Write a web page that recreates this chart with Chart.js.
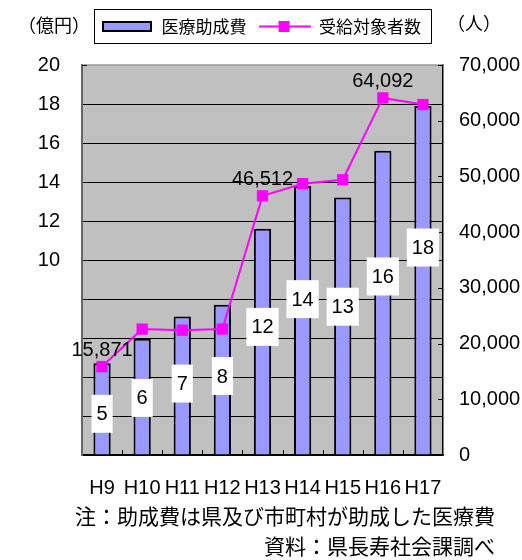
<!DOCTYPE html>
<html>
<head>
<meta charset="utf-8">
<script src="https://cdn.jsdelivr.net/npm/chart.js@4.4.1/dist/chart.umd.min.js"></script>
<style>
  body { margin: 0; background: #fff; }
  #wrap { position: relative; width: 522px; height: 560px; }
  #c { display: block; }
  .note { position: absolute; right: 27px; font-family: "Noto Sans CJK JP", sans-serif; font-size: 21px; line-height: 1; color: #000; white-space: nowrap; }
</style>
</head>
<body>
<div id="wrap">
  <canvas id="c" width="522" height="505"></canvas>
  <div class="note" style="top:505px">注：助成費は県及び市町村が助成した医療費</div>
  <div class="note" style="top:535px">資料：県長寿社会課調べ</div>
</div>
<script>
// data
const years = ["H9", "H10", "H11", "H12", "H13", "H14", "H15", "H16", "H17"];
const costs = [4.7, 5.96, 7.1, 7.7, 11.6, 13.8, 13.2, 15.6, 17.9];          // 億円
const recipients = [15871, 22600, 22400, 22600, 46512, 48700, 49400, 64092, 62900]; // 人
const labeledPoints = [0, 4, 7];

const numFont = '"Liberation Sans", Arial, sans-serif';
const jpFont = '"Noto Sans CJK JP", sans-serif';

function icon(draw) {
    const c = document.createElement("canvas");
    c.width = 52; c.height = 13;
    draw(c.getContext("2d"));
    return c;
}
const barIcon = icon(g => {
    g.fillStyle = "#9999FF"; g.fillRect(2, 1, 48, 11);
    g.strokeStyle = "#000"; g.lineWidth = 2; g.strokeRect(2, 2, 48, 9);
});
const lineIcon = icon(g => {
    g.strokeStyle = "#FF00FF"; g.lineWidth = 2;
    g.beginPath(); g.moveTo(0, 6.5); g.lineTo(52, 6.5); g.stroke();
    g.fillStyle = "#FF00FF"; g.fillRect(20, 1, 11, 11);
});

const decor = {
    id: "decor",
    beforeInit(chart) {
        const legend = chart.legend;
        const fit = legend.fit;
        legend.fit = function () { fit.call(this); this.height = 59; };
    },
    beforeDraw(chart) {
        const { ctx, chartArea: a } = chart;
        ctx.save();
        ctx.fillStyle = "#C0C0C0";
        ctx.fillRect(a.left, a.top, a.right - a.left, a.bottom - a.top);
        ctx.restore();
    },
    beforeDatasetsDraw(chart) {
        const { ctx, chartArea: a, scales } = chart;
        ctx.save();
        ctx.strokeStyle = "#999"; ctx.lineWidth = 1.5;
        ctx.beginPath(); ctx.moveTo(a.left, a.top); ctx.lineTo(a.right, a.top); ctx.stroke();
        ctx.strokeStyle = "#000"; ctx.lineWidth = 1;
        ctx.beginPath();
        const cw = (a.right - a.left) / years.length;
        for (let i = 1; i < years.length; i++) {
            const x = Math.round(a.left + i * cw) + 0.5;
            ctx.moveTo(x, a.bottom); ctx.lineTo(x, a.bottom - 5);
        }
        scales.y1.ticks.forEach(t => {
            const y = Math.round(scales.y1.getPixelForValue(t.value)) + 0.5;
            ctx.moveTo(a.right, y); ctx.lineTo(a.right - 5, y);
        });
        ctx.moveTo(a.left, a.top + 0.5); ctx.lineTo(a.left + 5, a.top + 0.5);
        ctx.stroke();
        ctx.restore();
    },
    afterDatasetDraw(chart, args) {
        if (args.index !== 0) return;
        const ctx = chart.ctx;
        const base = chart.scales.y.getPixelForValue(0);
        ctx.save();
        ctx.font = "20px " + numFont;
        ctx.textAlign = "center"; ctx.textBaseline = "middle";
        args.meta.data.forEach((bar, i) => {
            const txt = String(Math.round(costs[i]));
            const h = base - bar.y;
            const cy = base - (0.646 * h - 18);
            const w = ctx.measureText(txt).width + 10;
            ctx.fillStyle = "#fff";
            ctx.fillRect(bar.x - w / 2, cy - 19, w, 38);
            ctx.fillStyle = "#000";
            ctx.fillText(txt, bar.x, cy + 1);
        });
        ctx.restore();
    },
    afterDraw(chart) {
        const ctx = chart.ctx;
        ctx.save();
        ctx.fillStyle = "#000";
        ctx.font = "20px " + numFont;
        ctx.textAlign = "center"; ctx.textBaseline = "middle";
        const pts = chart.getDatasetMeta(1).data;
        labeledPoints.forEach(i => {
            ctx.fillText(recipients[i].toLocaleString("en-US"), pts[i].x, pts[i].y - 16);
        });
        // legend frame
        const hb = chart.legend.legendHitBoxes;
        const l = hb[0].left - 7, r = hb[hb.length - 1].left + hb[hb.length - 1].width + 10;
        ctx.strokeStyle = "#000"; ctx.lineWidth = 1;
        ctx.strokeRect(Math.round(l) + 0.5, 9.5, Math.round(r - l), 34);
        // units
        ctx.font = "18px " + jpFont;
        ctx.textAlign = "left";
        ctx.fillText("（億円）", 18, 25);
        ctx.fillText("（人）", 447, 23);
        ctx.restore();
    }
};

new Chart(document.getElementById("c"), {
    type: "bar",
    data: {
        labels: years,
        datasets: [{
            type: "bar",
            label: "医療助成費",
            data: costs,
            yAxisID: "y",
            order: 1,
            backgroundColor: "#9999FF",
            borderColor: "#000",
            borderWidth: 2,
            barPercentage: 0.43,
            categoryPercentage: 1
        }, {
            type: "line",
            label: "受給対象者数",
            data: recipients,
            yAxisID: "y1",
            order: 0,
            borderColor: "#FF00FF",
            borderWidth: 2,
            tension: 0,
            pointStyle: "rect",
            pointRadius: 8,
            pointBackgroundColor: "#FF00FF",
            pointBorderColor: "#FF00FF",
            pointBorderWidth: 0
        }]
    },
    options: {
        responsive: false,
        animation: false,
        layout: { padding: { top: 6, left: 0, right: 0, bottom: 0 } },
        plugins: {
            tooltip: { enabled: false },
            legend: {
                position: "top",
                labels: {
                    usePointStyle: true,
                    pointStyleWidth: 52,
                    padding: 12,
                    color: "#000",
                    font: { family: jpFont, size: 17 },
                    generateLabels: chart => chart.data.datasets.map((ds, i) => ({
                        text: ds.label,
                        pointStyle: i === 0 ? barIcon : lineIcon,
                        fillStyle: "transparent",
                        strokeStyle: "transparent",
                        lineWidth: 0,
                        hidden: false,
                        datasetIndex: i,
                        fontColor: "#000"
                    }))
                }
            }
        },
        scales: {
            x: {
                offset: true,
                grid: { display: false },
                border: { display: true, color: "#000", width: 1.5 },
                ticks: { color: "#000", font: { family: numFont, size: 20 }, padding: 13, autoSkip: false, maxRotation: 0 },
                afterFit: s => { s.height = 50; }
            },
            y: {
                position: "left",
                min: 0, max: 20,
                ticks: {
                    stepSize: 2,
                    color: "#000",
                    padding: 22,
                    font: { family: numFont, size: 20 },
                    callback: v => v >= 10 ? v : ""
                },
                grid: {
                    drawTicks: false,
                    color: c => c.tick && c.tick.value === 20 ? "rgba(0,0,0,0)" : "#000",
                    lineWidth: 1
                },
                border: { display: true, color: "#666", width: 2 },
                afterFit: s => { s.width = 82; }
            },
            y1: {
                position: "right",
                min: 0, max: 70000,
                ticks: {
                    stepSize: 10000,
                    color: "#000",
                    padding: 16,
                    font: { family: numFont, size: 20 },
                    callback: v => v.toLocaleString("en-US")
                },
                grid: { drawOnChartArea: false, drawTicks: false },
                border: { display: true, color: "#000", width: 1.5 },
                afterFit: s => { s.width = 79; }
            }
        }
    },
    plugins: [decor]
});
</script>
</body>
</html>
